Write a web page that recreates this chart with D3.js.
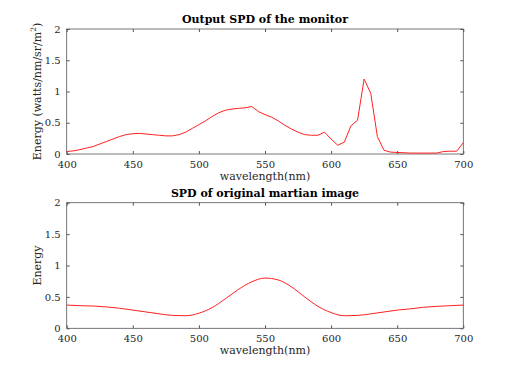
<!DOCTYPE html>
<meta charset="utf-8">
<style>
body { margin: 0; background: #fff; }
text { font-family: "DejaVu Serif", "Liberation Serif", serif; fill: #262626; }
.title { font-weight: bold; font-size: 11px; fill: #000; }
.tick text { font-size: 10px; }
.lbl { font-size: 11px; }
</style>
<svg width="512" height="369"></svg>
<script src="https://d3js.org/d3.v7.min.js"></script>
<script>

// monitor output SPD, 5 nm steps 400..700
var monitorNm = d3.range(400, 701, 5);
var monitorSpd = [
  0.04, 0.05, 0.07, 0.095, 0.12, 0.16, 0.2, 0.24, 0.28, 0.31,
  0.325, 0.33, 0.32, 0.31, 0.30, 0.29, 0.29, 0.31, 0.35, 0.41,
  0.47, 0.53, 0.60, 0.66, 0.70, 0.72, 0.73, 0.74, 0.76, 0.68,
  0.63, 0.59, 0.53, 0.46, 0.40, 0.35, 0.31, 0.30, 0.30, 0.35,
  0.24, 0.14, 0.19, 0.45, 0.54, 1.2, 0.97, 0.28, 0.06, 0.03,
  0.025, 0.02, 0.015, 0.015, 0.015, 0.015, 0.015, 0.04, 0.045, 0.045,
  0.18
];

// martian image SPD, 10 nm steps
var martianNm = d3.range(400, 701, 10);
var martianSpd = [
  0.37, 0.36, 0.355, 0.34, 0.32, 0.29, 0.26, 0.23, 0.205, 0.2,
  0.24, 0.33, 0.47, 0.62, 0.74, 0.80, 0.77, 0.66, 0.50, 0.35,
  0.25, 0.20, 0.205, 0.23, 0.26, 0.29, 0.31, 0.335, 0.35, 0.36,
  0.37
];

var xTicks = [400, 450, 500, 550, 600, 650, 700];
var yTicks = [0, 0.5, 1, 1.5, 2];

var svg = d3.select("svg");
var left = 66.7, right = 463.3;

var x = d3.scaleLinear().domain([400, 700]).range([left, right]);

function panel(top, bottom, xs, ys, title, curve, ylabel) {
  var y = d3.scaleLinear().domain([0, 2]).range([bottom, top]);
  var g = svg.append("g");

  g.append("rect")
      .attr("x", left).attr("y", top)
      .attr("width", right - left).attr("height", bottom - top)
      .attr("fill", "none").attr("stroke", "#555").attr("stroke-width", 0.8);

  // axes with inward ticks, mirrored on top and right
  g.append("g").attr("transform", "translate(0," + bottom + ")")
      .call(d3.axisBottom(x).tickValues(xTicks).tickSize(-3).tickPadding(7).tickFormat(d3.format("d")));
  g.append("g").attr("transform", "translate(0," + top + ")")
      .call(d3.axisTop(x).tickValues(xTicks).tickSize(-3).tickFormat(""));
  g.append("g").attr("transform", "translate(" + left + ",0)")
      .call(d3.axisLeft(y).tickValues(yTicks).tickSize(-3).tickPadding(6).tickFormat(function(d) { return d; }));
  g.append("g").attr("transform", "translate(" + right + ",0)")
      .call(d3.axisRight(y).tickValues(yTicks).tickSize(-3).tickFormat(""));
  g.selectAll(".domain").remove();
  g.selectAll(".tick line").attr("stroke", "#555");

  var line = d3.line()
      .x(function(d, i) { return x(xs[i]); })
      .y(function(d) { return y(d); })
      .curve(curve);
  g.append("path")
      .datum(ys)
      .attr("d", line)
      .attr("fill", "none")
      .attr("stroke", "#ff2020")
      .attr("stroke-width", 1);

  g.append("text").attr("class", "title")
      .attr("x", (left + right) / 2).attr("y", top - 6)
      .attr("text-anchor", "middle").text(title);

  g.append("text").attr("class", "lbl")
      .attr("x", (left + right) / 2).attr("y", bottom + 26)
      .attr("text-anchor", "middle").text("wavelength(nm)");

  var yt = g.append("text").attr("class", "lbl")
      .attr("transform", "translate(" + (left - 26) + "," + ((top + bottom) / 2) + ") rotate(-90)")
      .attr("text-anchor", "middle");
  ylabel(yt);
}

panel(29, 154, monitorNm, monitorSpd, "Output SPD of the monitor", d3.curveLinear, function(t) {
  t.append("tspan").text("Energy (watts/nm/sr/m");
  t.append("tspan").attr("dy", -5).attr("font-size", "7.5px").text("2");
  t.append("tspan").attr("dy", 5).text(")");
});
panel(202.7, 328.3, martianNm, martianSpd, "SPD of original martian image", d3.curveMonotoneX, function(t) {
  t.text("Energy");
});

</script>
